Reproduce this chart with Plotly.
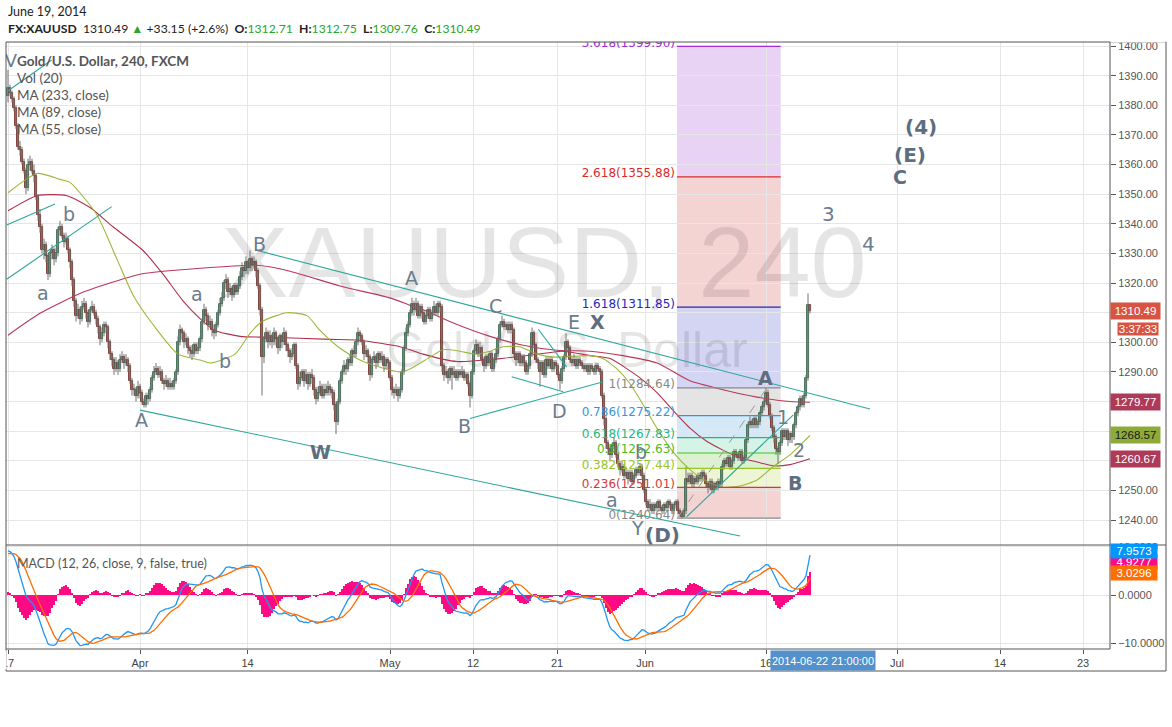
import plotly.graph_objects as go

# ---------------- DATA (4h bars, bar index 0 = Mar 17) ----------------
open_ = [
1383,1386,1384,1382,1379,1373,1366,1365,1361,1358,
1352,1360,1361,1358,1356,1349,1343,1339,1331,1333,
1329,1323,1330,1331,1328,1330,1338,1339,1336,1334,
1335,1331,1327,1321,1314,1309,1311,1308,1312,1313,
1310,1307,1311,1312,1310,1308,1305,1301,1303,1306,
1305,1300,1296,1294,1291,1293,1291,1294,1295,1293,
1294,1292,1287,1284,1284,1282,1285,1283,1280,1279,
1282,1281,1284,1288,1290,1291,1289,1290,1287,1286,
1287,1285,1286,1285,1287,1290,1300,1304,1303,1300,
1301,1298,1297,1296,1299,1297,1298,1301,1307,1311,
1309,1306,1307,1304,1303,1306,1310,1313,1315,1320,
1321,1317,1318,1316,1319,1317,1319,1322,1325,1324,
1327,1325,1328,1326,1327,1324,1319,1311,1295,1301,
1303,1300,1302,1300,1303,1301,1298,1302,1300,1303,
1299,1297,1295,1296,1299,1292,1286,1288,1290,1287,
1289,1286,1289,1288,1284,1281,1283,1285,1282,1284,
1283,1285,1284,1283,1279,1273,1280,1287,1290,1292,
1291,1294,1293,1297,1296,1300,1303,1302,1300,1296,
1297,1295,1289,1294,1295,1293,1296,1294,1295,1292,
1294,1293,1288,1284,1283,1284,1282,1284,1290,1298,
1303,1306,1310,1313,1311,1313,1309,1312,1310,1307,
1309,1311,1308,1310,1312,1310,1313,1312,1292,1289,
1290,1288,1291,1289,1290,1288,1290,1289,1290,1288,
1289,1286,1282,1290,1297,1299,1296,1298,1294,1292,
1295,1293,1296,1291,1294,1296,1301,1306,1307,1305,
1306,1304,1306,1304,1296,1294,1296,1293,1295,1293,
1290,1292,1296,1303,1299,1294,1293,1290,1293,1289,
1294,1292,1294,1291,1293,1292,1289,1287,1291,1295,
1300,1298,1294,1293,1294,1292,1294,1293,1292,1291,
1292,1290,1292,1291,1290,1292,1291,1290,1282,1274,
1266,1264,1262,1265,1266,1262,1259,1257,1258,1255,
1256,1254,1256,1253,1255,1257,1256,1258,1255,1250,
1246,1244,1245,1243,1245,1244,1246,1244,1243,1245,
1244,1246,1245,1243,1245,1246,1243,1242,1241,1243,
1254,1253,1255,1252,1254,1253,1255,1254,1256,1255,
1252,1251,1253,1250,1252,1251,1253,1252,1258,1260,
1259,1261,1258,1260,1263,1262,1261,1263,1260,1261,
1267,1272,1273,1272,1274,1272,1273,1276,1278,1280,
1283,1279,1275,1271,1268,1264,1263,1266,1270,1268,
1270,1267,1269,1268,1272,1276,1278,1281,1279,1282,
1288,1312.71]

high = [
1392,1387,1385,1383,1380,1374,1368,1366,1362,1359,
1362,1363,1362,1360,1357,1350,1345,1340,1335,1334,
1330,1331,1333,1332,1332,1339,1341,1340,1337,1337,
1336,1332,1328,1322,1315,1313,1312,1314,1315,1314,
1311,1312,1314,1313,1311,1309,1306,1305,1307,1307,
1306,1301,1297,1295,1295,1294,1296,1297,1296,1296,
1295,1293,1288,1286,1285,1287,1286,1284,1281,1283,
1283,1285,1289,1292,1293,1292,1292,1291,1288,1289,
1288,1288,1287,1288,1291,1302,1306,1305,1304,1303,
1302,1299,1299,1300,1300,1300,1302,1308,1313,1312,
1310,1309,1308,1306,1307,1311,1315,1317,1321,1323,
1322,1320,1319,1320,1320,1320,1324,1327,1326,1329,
1328,1331,1329,1329,1328,1325,1320,1312,1302,1305,
1304,1304,1303,1305,1304,1302,1303,1303,1305,1304,
1300,1298,1298,1300,1300,1293,1290,1291,1291,1291,
1290,1290,1291,1289,1285,1285,1287,1286,1286,1286,
1287,1286,1285,1284,1280,1281,1288,1291,1294,1293,
1295,1296,1298,1299,1301,1305,1304,1303,1301,1299,
1298,1296,1295,1297,1296,1297,1297,1297,1296,1295,
1295,1294,1289,1285,1286,1285,1285,1291,1299,1305,
1307,1311,1315,1314,1315,1314,1313,1313,1311,1310,
1312,1312,1311,1314,1313,1314,1314,1313,1293,1292,
1291,1292,1292,1292,1291,1291,1291,1292,1291,1290,
1290,1287,1291,1298,1301,1300,1300,1299,1295,1296,
1296,1297,1297,1295,1298,1302,1307,1309,1308,1307,
1307,1307,1307,1305,1297,1297,1297,1296,1296,1294,
1293,1297,1305,1304,1300,1295,1294,1294,1294,1295,
1295,1295,1295,1294,1294,1293,1290,1292,1296,1303,
1301,1299,1295,1296,1295,1295,1295,1294,1293,1293,
1293,1293,1293,1292,1293,1293,1292,1291,1283,1275,
1267,1265,1266,1268,1267,1263,1260,1260,1259,1258,
1257,1257,1257,1256,1258,1258,1259,1259,1256,1251,
1247,1247,1246,1246,1246,1247,1247,1245,1246,1246,
1247,1247,1246,1246,1247,1247,1244,1243,1244,1258,
1256,1256,1256,1255,1255,1256,1256,1257,1257,1256,
1253,1254,1254,1253,1253,1254,1254,1259,1261,1261,
1262,1262,1261,1264,1264,1263,1264,1264,1262,1268,
1273,1275,1274,1275,1275,1274,1277,1279,1281,1284.64,
1284,1280,1276,1272,1269,1265,1267,1271,1271,1271,
1271,1270,1270,1273,1277,1279,1282,1282,1283,1289,
1316.5,1312.75]

low = [
1381,1383,1381,1378,1372,1365,1363,1360,1357,1350,
1351,1358,1357,1354,1348,1341,1337,1330,1328,1327,
1321,1322,1328,1326,1327,1329,1336,1335,1332,1333,
1330,1325,1319,1312,1307,1308,1306,1307,1311,1308,
1305,1306,1310,1309,1306,1303,1299,1300,1302,1303,
1298,1294,1292,1289,1290,1289,1290,1293,1291,1292,
1290,1286,1282,1282,1280,1281,1281,1279,1278,1278,
1279,1280,1283,1287,1289,1288,1288,1286,1284,1285,
1284,1284,1284,1284,1286,1289,1299,1301,1298,1299,
1296,1295,1294,1295,1296,1296,1297,1300,1306,1307,
1304,1305,1302,1301,1302,1305,1309,1312,1314,1318,
1315,1316,1314,1315,1316,1316,1318,1321,1322,1323,
1323,1324,1324,1325,1322,1318,1309,1282,1293,1300,
1298,1299,1298,1299,1299,1296,1297,1298,1299,1297,
1295,1293,1294,1295,1291,1284,1285,1287,1285,1286,
1284,1285,1286,1282,1279,1280,1282,1281,1281,1282,
1282,1282,1281,1277,1269,1272,1279,1286,1289,1289,
1290,1292,1292,1295,1295,1299,1300,1299,1294,1295,
1293,1287,1288,1293,1291,1292,1293,1293,1290,1291,
1291,1287,1282,1281,1282,1280,1281,1283,1289,1297,
1302,1305,1309,1309,1310,1308,1308,1308,1306,1306,
1308,1307,1307,1309,1309,1309,1310,1290,1287,1288,
1286,1287,1284,1288,1287,1287,1288,1288,1287,1287,
1285,1278,1281,1289,1296,1295,1295,1293,1290,1291,
1292,1292,1290,1290,1293,1295,1300,1305,1304,1304,
1303,1303,1303,1295,1292,1293,1292,1292,1292,1289,
1289,1291,1295,1298,1293,1291,1285,1289,1288,1288,
1291,1291,1290,1290,1291,1288,1284,1286,1290,1294,
1297,1293,1292,1292,1291,1291,1292,1291,1290,1290,
1289,1289,1290,1289,1289,1290,1289,1281,1272,1264,
1262,1260,1261,1264,1261,1258,1255,1256,1254,1254,
1252,1253,1252,1252,1254,1255,1255,1254,1249,1245,
1243,1243,1242,1242,1243,1243,1243,1242,1242,1243,
1243,1244,1242,1242,1244,1242,1241,1240.64,1241,1242,
1252,1252,1251,1251,1252,1252,1253,1253,1254,1251,
1249,1250,1249,1249,1250,1250,1251,1251,1257,1258,
1258,1257,1257,1259,1261,1260,1260,1259,1259,1260,
1266,1271,1271,1271,1271,1271,1272,1275,1277,1279,
1278,1274,1270,1266,1262,1259,1262,1265,1267,1267,
1265,1266,1266,1267,1271,1275,1277,1278,1278,1281,
1287,1309.76]

close = [
1386,1384,1382,1379,1373,1366,1365,1361,1358,1352,
1360,1361,1358,1356,1349,1343,1339,1331,1333,1329,
1323,1330,1331,1328,1330,1338,1339,1336,1334,1335,
1331,1327,1321,1314,1309,1311,1308,1312,1313,1310,
1307,1311,1312,1310,1308,1305,1301,1303,1306,1305,
1300,1296,1294,1291,1293,1291,1294,1295,1293,1294,
1292,1287,1284,1284,1282,1285,1283,1280,1279,1282,
1281,1284,1288,1290,1291,1289,1290,1287,1286,1287,
1285,1286,1285,1287,1290,1300,1304,1303,1300,1301,
1298,1297,1296,1299,1297,1298,1301,1307,1311,1309,
1306,1307,1304,1303,1306,1310,1313,1315,1320,1321,
1317,1318,1316,1319,1317,1319,1322,1325,1324,1327,
1325,1328,1326,1327,1324,1319,1311,1295,1301,1303,
1300,1302,1300,1303,1301,1298,1302,1300,1303,1299,
1297,1295,1296,1299,1292,1286,1288,1290,1287,1289,
1286,1289,1288,1284,1281,1283,1285,1282,1284,1283,
1285,1284,1283,1279,1273,1280,1287,1290,1292,1291,
1294,1293,1297,1296,1300,1303,1302,1300,1296,1297,
1295,1289,1294,1295,1293,1296,1294,1295,1292,1294,
1293,1288,1284,1283,1284,1282,1284,1290,1298,1303,
1306,1310,1313,1311,1313,1309,1312,1310,1307,1309,
1311,1308,1310,1312,1310,1313,1312,1292,1289,1290,
1288,1291,1289,1290,1288,1290,1289,1290,1288,1289,
1286,1282,1290,1297,1299,1296,1298,1294,1292,1295,
1293,1296,1291,1294,1296,1301,1306,1307,1305,1306,
1304,1306,1304,1296,1294,1296,1293,1295,1293,1290,
1292,1296,1303,1299,1294,1293,1290,1293,1289,1294,
1292,1294,1291,1293,1292,1289,1287,1291,1295,1300,
1298,1294,1293,1294,1292,1294,1293,1292,1291,1292,
1290,1292,1291,1290,1292,1291,1290,1282,1274,1266,
1264,1262,1265,1266,1262,1259,1257,1258,1255,1256,
1254,1256,1253,1255,1257,1256,1258,1255,1250,1246,
1244,1245,1243,1245,1244,1246,1244,1243,1245,1244,
1246,1245,1243,1245,1246,1243,1242,1241,1243,1254,
1253,1255,1252,1254,1253,1255,1254,1256,1255,1252,
1251,1253,1250,1252,1251,1253,1252,1258,1260,1259,
1261,1258,1260,1263,1262,1261,1263,1260,1261,1267,
1272,1273,1272,1274,1272,1273,1276,1278,1280,1283,
1279,1275,1271,1268,1264,1263,1266,1270,1268,1270,
1267,1269,1268,1272,1276,1278,1281,1279,1282,1288,
1312.71,1310.49]

# moving averages (bar index, price)
ma233_x = [0,16,36,51,66,96,124.5,141,166,191,201,207.5,224.5,241,257.5,274.5,291,307.5,324.5,341,357.5,374.5,391,401]
ma233_y = [1302.4,1309.8,1316.5,1320,1323,1325,1326,1324,1319,1315,1312.5,1311,1306,1302,1299,1297.3,1297,1295.5,1293,1287,1284,1281.5,1280,1279.77]
ma89_x = [0,14.5,29.5,41,52.5,67.5,77.5,87.5,96,103.5,116,131,161,176,196,201,207.5,224.5,246,265,277,291,301,316,324.5,332.5,341,349.5,357.5,366,374.5,382.5,391,401]
ma89_y = [1344.4,1349.5,1349.5,1345.5,1339,1331,1323,1314,1308,1304,1302,1301.7,1301,1300.7,1298.5,1297.5,1296,1293.5,1294.5,1296,1297,1295.5,1294.5,1288,1283,1277,1271,1266.5,1263.6,1261,1259.6,1258.3,1258.7,1260.67]
ma55_x = [0,14.5,26,31,44.5,54.5,62.5,72.5,85,96,101,113.5,121,127,139.5,149.5,156,166,176,186,196,201,211,217.5,226,233.5,241,247.5,256,264.5,273.5,291,297.5,304.5,311,317.5,324.5,332.5,341,349.5,357.5,366,374.5,382.5,391,401]
ma55_y = [1350.5,1357,1355,1354,1343,1328,1316,1306,1296,1294,1293,1296,1303,1307,1310,1309,1304,1298,1294,1291.6,1290,1291,1295,1297.5,1297,1296,1297,1298.5,1298.5,1296,1295,1295.5,1294.5,1291,1286,1279,1271,1263,1257,1253,1251,1251.5,1253.5,1258,1262,1268.57]

# MACD(12, 26, close, 9, false, true): EMA oscillator, SMA(9) signal.
# State before the first visible bar (EMA12, EMA26) and the signal level at the chart's left edge.
macd_seed = [1376.0, 1367.0]
signal_seed = 8.5

tick_pos = [0, 66, 119.75, 191, 232.5, 274.5, 318.5, 379, 444.5, 496, 537.5]
tick_text = ["17", "Apr", "14", "May", "12", "21", "Jun", "16", "Jul", "14", "23"]

fib_ratio = ["0", "0.236", "0.382", "0.5", "0.618", "0.786", "1", "1.618", "2.618", "3.618"]
fib_price = [1240.64, 1251.01, 1257.44, 1262.63, 1267.83, 1275.22, 1284.64, 1311.85, 1355.88, 1399.90]

wave_text = ["a", "b", "A", "a", "b", "B", "W", "A", "B", "C", "D", "E", "X", "a", "b", "Y", "(D)",
             "A", "1", "2", "B", "3", "4", "(4)", "(E)", "C"]
wave_bar = [17.5, 30.5, 66.5, 94.5, 108.5, 125.5, 156, 201.5, 228, 243.5, 275.5, 283, 294.5, 302, 316.5,
            314.5, 327, 378.5, 387.5, 395.5, 393.5, 410, 430, 456.5, 451, 446]
wave_price = [1316.6, 1343.3, 1273.7, 1316.3, 1293.7, 1333.2, 1263, 1321.7, 1271.7, 1312.2, 1276.8, 1307,
              1306.9, 1246.8, 1263, 1237.3, 1234.9, 1288.1, 1274.8, 1263.6, 1252.5, 1343.3, 1333.2,
              1372.7, 1363.2, 1355.8]
wave_bold = [0, 0, 0, 0, 0, 0, 1, 0, 0, 0, 0, 0, 1, 0, 0, 0, 1, 1, 0, 0, 1, 0, 0, 1, 1, 1]

# hand-drawn trend lines: (bar0, price0, bar1, price1)
trend_lines = [
    (-0.65, 1384.6, 21.85, 1395.3),
    (-0.65, 1339.6, 23.5, 1346.7),
    (-0.65, 1321.3, 51.85, 1345.8),
    (123.5, 1331.2, 431, 1277.5),
    (66, 1277.1, 366, 1234.6),
    (231, 1274.3, 297.65, 1286.7),
    (251.85, 1288.4, 277.65, 1283.3),
    (265.15, 1304.4, 279.35, 1291.6),
    (339.35, 1241.1, 392.65, 1275.5),
]
fib_trend = (335.15, 1241.1, 379.35, 1284.5)
fib_x = (334.5, 386.35)

price_labels = [("1310.49", 1310.49, "#d75442", "white"),
                ("1279.77", 1279.77, "#ae3a59", "white"),
                ("1268.57", 1268.57, "#8eab3a", "#1a1a1a"),
                ("1260.67", 1260.67, "#ae3a59", "white")]

assert len(open_) == len(high) == len(low) == len(close) == 402

# ---------------- FIGURE ----------------
W, H = 1172, 727
L, R, T, B = 6, 62, 42, 78
PW, PH = W - L - R, H - T - B


def px_x(px):
    return (px - L) / PW


def px_y(py):
    return (H - B - py) / PH


SPLIT = px_y(545)
n = len(close)
xs = list(range(n))

UP, DN, UPB, DNB = "#6ba583", "#d75442", "#225437", "#5b1a13"
WAVE = "#6b7c8e"
WAVEB = "#5d6e80"
TEAL = "#2ea79b"
GRID = "#e6e6e6"
AX = "#555555"
AXF = "Liberation Sans, Arial"

fig = go.Figure()

# watermark (drawn first so that candles sit on top of it)
fig.add_trace(go.Scatter(x=[268, 279.5], y=[1323.8, 1296.0], mode="text",
                         text=["XAUUSD, 240", "Gold/U.S. Dollar"],
                         textfont=dict(family="Liberation Sans, Arial", size=[101, 50],
                                       color="rgba(0,0,0,0.10)"),
                         hoverinfo="skip", showlegend=False))

# moving averages
for mx, my, col in [(ma233_x, ma233_y, "#b8385a"), (ma89_x, ma89_y, "#b0304c"), (ma55_x, ma55_y, "#9cb83a")]:
    fig.add_trace(go.Scatter(x=mx, y=my, mode="lines", line=dict(color=col, width=1.1, shape="spline", smoothing=0.6),
                             hoverinfo="skip", showlegend=False))

# candle wicks
wx, wy = [], []
for i in range(n):
    wx += [i, i, None]
    wy += [low[i], high[i], None]
fig.add_trace(go.Scatter(x=wx, y=wy, mode="lines", line=dict(color="#737375", width=1),
                         hoverinfo="skip", showlegend=False))

# candle bodies
is_up = [c >= o for o, c in zip(open_, close)]
fig.add_trace(go.Bar(x=xs, y=[max(abs(c - o), 0.35) for o, c in zip(open_, close)],
                     base=[min(o, c) for o, c in zip(open_, close)], width=1.4,
                     marker=dict(color=[UP if u else DN for u in is_up],
                                 line=dict(color=[UPB if u else DNB for u in is_up], width=0.8)),
                     hoverinfo="skip", showlegend=False))

# fib labels (clipped by the pane)
fib_col = ["#888888", "#d03a3a", "#99c42a", "#4cbb22", "#22b883", "#3496d8", "#888888", "#2626b8", "#dc2a2a", "#a22ad0"]
fig.add_trace(go.Scatter(x=[333.5] * len(fib_price), y=[p + 0.85 for p in fib_price], mode="text",
                         text=[f"{r}({p:.2f})" for r, p in zip(fib_ratio, fib_price)],
                         textposition="middle left",
                         textfont=dict(family="DejaVu Sans", size=12, color=fib_col),
                         hoverinfo="skip", showlegend=False, cliponaxis=True))

# "V" label clipped at the left edge
fig.add_trace(go.Scatter(x=[1.5], y=[1394.3], mode="text", text=["V"],
                         textfont=dict(family="DejaVu Sans", size=18, color=WAVE),
                         hoverinfo="skip", showlegend=False, cliponaxis=True))

# MACD (EMA oscillator, simple 9-bar signal)
a12, a26 = 2 / 13, 2 / 27
e12, e26 = macd_seed
window = [signal_seed] * 9
macd, signal, hist = [], [], []
for c in close:
    e12 += a12 * (c - e12)
    e26 += a26 * (c - e26)
    m = e12 - e26
    window = window[1:] + [m]
    s = sum(window) / 9
    macd.append(m)
    signal.append(s)
    hist.append(m - s)

fig.add_trace(go.Bar(x=xs, y=hist, width=0.45, marker=dict(color="#ff0a84", line=dict(width=0)),
                     xaxis="x", yaxis="y2", hoverinfo="skip", showlegend=False))
fig.add_trace(go.Scatter(x=xs, y=macd, mode="lines", line=dict(color="#2196f3", width=1.3),
                         yaxis="y2", hoverinfo="skip", showlegend=False))
fig.add_trace(go.Scatter(x=xs, y=signal, mode="lines", line=dict(color="#ff6d00", width=1.3),
                         yaxis="y2", hoverinfo="skip", showlegend=False))

shapes = []
# fib fills
fib_fill = ["rgba(200,40,35,0.2)", "rgba(170,205,40,0.2)", "rgba(70,195,5,0.2)", "rgba(45,195,130,0.2)",
            "rgba(45,140,205,0.2)", "rgba(120,120,120,0.2)", "rgba(40,40,195,0.2)", "rgba(200,40,35,0.2)",
            "rgba(140,35,205,0.2)"]
for i in range(len(fib_price) - 1):
    shapes.append(dict(type="rect", xref="x", yref="y", x0=fib_x[0], x1=fib_x[1],
                       y0=fib_price[i], y1=fib_price[i + 1], fillcolor=fib_fill[i], line=dict(width=0), layer="below"))
for p, col in zip(fib_price, fib_col):
    shapes.append(dict(type="line", xref="x", yref="y", x0=fib_x[0], x1=fib_x[1], y0=p, y1=p,
                       line=dict(color=col, width=1.2)))
shapes.append(dict(type="line", xref="x", yref="y", x0=fib_trend[0], y0=fib_trend[1], x1=fib_trend[2], y1=fib_trend[3],
                   line=dict(color="#9a9a9a", width=1, dash="dash")))
for x0, y0, x1, y1 in trend_lines:
    shapes.append(dict(type="line", xref="x", yref="y", x0=x0, y0=y0, x1=x1, y1=y1,
                       line=dict(color=TEAL, width=1.1)))
# frame
RX = px_x(1166)
BY = px_y(671)
for d in [dict(x0=0, x1=0, y0=BY, y1=1), dict(x0=RX, x1=RX, y0=BY, y1=1),
          dict(x0=0, x1=RX, y0=1, y1=1), dict(x0=0, x1=RX, y0=BY, y1=BY),
          dict(x0=1, x1=1, y0=0, y1=1), dict(x0=0, x1=RX, y0=SPLIT, y1=SPLIT),
          dict(x0=0, x1=1, y0=0, y1=0)]:
    shapes.append(dict(type="line", xref="paper", yref="paper", line=dict(color=AX, width=1), **d))

ann = []
# header
ann.append(dict(x=0, y=px_y(12), xref="paper", yref="paper", xanchor="left", yanchor="middle", showarrow=False,
                text="June 19, 2014", font=dict(family="Lato, Open Sans", size=12.5, color="#222")))
G = "#2aa52a"
ann.append(dict(x=0, y=px_y(29), xref="paper", yref="paper", xanchor="left", yanchor="middle", showarrow=False,
                text=("<b>FX:XAUUSD</b>  1310.49 <span style='color:%s'>▲</span> +33.15 (+2.6%%)  "
                      "<b>O:</b><span style='color:%s'>1312.71</span>  <b>H:</b><span style='color:%s'>1312.75</span>  "
                      "<b>L:</b><span style='color:%s'>1309.76</span>  <b>C:</b><span style='color:%s'>1310.49</span>")
                     % (G, G, G, G, G),
                font=dict(family="Lato, Open Sans", size=12.2, color="#222")))
# legend texts
for txt, py, bold, fs in [("Gold/U.S. Dollar, 240, FXCM", 61, True, 13.5), ("Vol (20)", 77.5, False, 13.5),
                          ("MA (233, close)", 95, False, 13.5), ("MA (89, close)", 112, False, 13.5),
                          ("MA (55, close)", 129, False, 13.5),
                          ("MACD (12, 26, close, 9, false, true)", 563, False, 12.5)]:
    ann.append(dict(x=px_x(15), y=px_y(py), xref="paper", yref="paper", xanchor="left", yanchor="middle",
                    showarrow=False, text=("<b>%s</b>" % txt) if bold else txt,
                    font=dict(family="Lato, Open Sans", size=fs, color="#555")))
# wave labels
for t, bx, by, bd in zip(wave_text, wave_bar, wave_price, wave_bold):
    ann.append(dict(x=bx, y=by, xref="x", yref="y", showarrow=False, xanchor="center", yanchor="middle",
                    text=("<b>%s</b>" % t) if bd else t,
                    font=dict(family="DejaVu Sans", size=20 if t in ("(4)", "(E)", "(D)", "3", "4") else 19,
                              color=WAVEB if bd else WAVE)))
# right axis value labels
for txt, val, bg, fg in price_labels:
    ann.append(dict(x=1, y=val, xref="paper", yref="y", xanchor="left", yanchor="middle", showarrow=False,
                    text=txt, bgcolor=bg, width=47, height=14, borderpad=1, align="center",
                    font=dict(family=AXF, size=11.5, color=fg)))
ann.append(dict(x=px_x(1137.5), y=px_y(328.5), xref="paper", yref="paper", xanchor="center", yanchor="middle",
                showarrow=False, text="3:37:33", bgcolor="#d75442", width=40, height=12, borderpad=0,
                font=dict(family=AXF, size=11.5, color="white")))
for txt, py, bg in [("4.9277", 561.5, "#ff0a84"), ("7.9573", 550.5, "#0096ff"), ("3.0296", 572.5, "#ff6e00")]:
    ann.append(dict(x=1, y=px_y(py), xref="paper", yref="paper", xanchor="left", yanchor="middle", showarrow=False,
                    text=txt, bgcolor=bg, width=44, height=12, borderpad=1, align="center",
                    font=dict(family=AXF, size=11.5, color="white")))
# covers that emulate clipping of axis texts by the frame
ann.append(dict(x=px_x(1138), y=px_y(36), xref="paper", yref="paper", xanchor="center", yanchor="middle",
                showarrow=False, text=" ", bgcolor="white", width=54, height=12, borderpad=0))
ann.append(dict(x=px_x(2.5), y=px_y(660), xref="paper", yref="paper", xanchor="center", yanchor="middle",
                showarrow=False, text=" ", bgcolor="white", width=6, height=18, borderpad=0))
# crosshair time label
ann.append(dict(x=px_x(823), y=px_y(660.5), xref="paper", yref="paper", xanchor="center", yanchor="middle",
                showarrow=False, text="2014-06-22 21:00:00", bgcolor="#5390cc", width=104, height=19, borderpad=0,
                font=dict(family=AXF, size=11, color="white")))

fig.update_layout(
    width=W, height=H, margin=dict(l=L, r=R, t=T, b=B, autoexpand=False),
    paper_bgcolor="white", plot_bgcolor="white", showlegend=False, barmode="overlay", bargap=0,
    shapes=shapes, annotations=ann,
    xaxis=dict(domain=[0, 1], range=[-1, 551], anchor="y2", tickmode="array", tickvals=tick_pos, ticktext=tick_text,
               showgrid=True, gridcolor=GRID, gridwidth=1, zeroline=False, showline=False, automargin=False,
               ticks="outside", ticklen=4, tickcolor=AX, tickfont=dict(family=AXF, size=11, color="#444")),
    yaxis=dict(domain=[SPLIT, 1], range=[1231.57, 1401.38], side="right", anchor="x", automargin=False,
               tickmode="linear", tick0=1300, dtick=10, tickformat=".2f",
               showgrid=True, gridcolor=GRID, zeroline=False, showline=False,
               ticks="outside", ticklen=5, tickcolor=AX, tickfont=dict(family=AXF, size=11, color="#555")),
    yaxis2=dict(domain=[0, SPLIT], range=[-11.18, 10.35], side="right", anchor="x", automargin=False,
                tickmode="array", tickvals=[-10, 0, 10], tickformat=".4f",
                showgrid=True, gridcolor=GRID, zeroline=False, showline=False,
                ticks="outside", ticklen=5, tickcolor=AX, tickfont=dict(family=AXF, size=11, color="#555")),
)

fig.write_html("out.html", config={"displayModeBar": False},
               post_script="document.body.style.margin='0px';document.body.style.overflow='hidden';")
